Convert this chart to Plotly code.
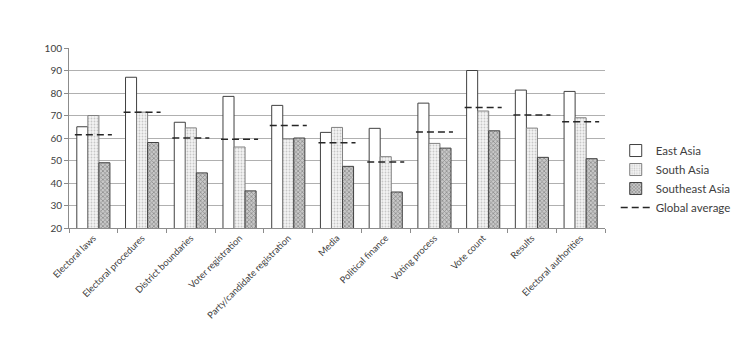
import plotly.graph_objects as go

categories = ["Electoral laws", "Electoral procedures", "District boundaries", "Voter registration",
              "Party/candidate registration", "Media", "Political finance", "Voting process",
              "Vote count", "Results", "Electoral authorities"]
east_asia = [65, 87, 67, 78.5, 74.5, 62.5, 64.3, 75.5, 90, 81.3, 80.7]
south_asia = [70, 71.5, 64.5, 56, 59.6, 64.7, 51.7, 57.6, 72, 64.4, 69]
southeast_asia = [49, 58, 44.5, 36.5, 60, 47.4, 36, 55.5, 63.2, 51.4, 50.8]
global_avg = [61.5, 71.5, 60, 59.5, 65.6, 57.9, 49.3, 62.7, 73.6, 70.2, 67.2]

idx = list(range(len(categories)))
FONT = "Lato"
TXT = "#404040"

fig = go.Figure()
fig.add_trace(go.Bar(x=idx, y=east_asia, name="East Asia",
                     marker=dict(color="white", line=dict(color="#404040", width=1))))
fig.add_trace(go.Bar(x=idx, y=south_asia, name="South Asia",
                     marker=dict(color="#f2f2f2", line=dict(color="#808080", width=1),
                                 pattern=dict(shape=".", fgcolor="#9a9a9a", bgcolor="#f4f4f4",
                                              size=3, solidity=0.3))))
fig.add_trace(go.Bar(x=idx, y=southeast_asia, name="Southeast Asia",
                     marker=dict(color="#8a8a8a", line=dict(color="#404040", width=1),
                                 pattern=dict(shape="x", fgcolor="#505050", bgcolor="#c8c8c8",
                                              size=3, solidity=0.45))))

seg_x, seg_y = [], []
for i, g in zip(idx, global_avg):
    seg_x += [i - 0.38, i + 0.38, None]
    seg_y += [g, g, None]
fig.add_trace(go.Scatter(x=seg_x, y=seg_y, mode="lines", name="Global average",
                         line=dict(color="#262626", width=1.5, dash="7px,4px")))

fig.update_layout(
    width=746, height=353,
    margin=dict(l=61, r=149, t=40, b=133, autoexpand=False),
    paper_bgcolor="white", plot_bgcolor="white",
    barmode="group", bargap=0.32, bargroupgap=0,
    font=dict(family=FONT, size=10, color=TXT),
    showlegend=True,
    legend=dict(x=1.02, y=0.511, xanchor="left", yanchor="top",
                font=dict(family=FONT, size=11.5, color=TXT),
                bgcolor="rgba(0,0,0,0)", tracegroupgap=0, itemwidth=30),
)
fig.update_xaxes(range=[-0.5, len(categories) - 0.5], tickmode="array", tickvals=idx,
                 ticktext=categories, tickangle=-45, ticks="", showgrid=False, automargin=False,
                 showline=True, linecolor="#8c8c8c", linewidth=1,
                 minor=dict(tickmode="linear", tick0=-0.5, dtick=1, ticks="outside",
                            ticklen=4, tickcolor="#8c8c8c", showgrid=False),
                 tickfont=dict(family=FONT, size=9.3, color=TXT))
fig.update_yaxes(range=[20, 100], dtick=10, showgrid=True, gridcolor="#b0b0b0", gridwidth=1,
                 showline=True, linecolor="#8c8c8c", linewidth=1, ticks="outside", ticklen=4,
                 tickcolor="#8c8c8c", zeroline=False, automargin=False,
                 tickfont=dict(family=FONT, size=10, color=TXT))

fig.write_html("out.html")
